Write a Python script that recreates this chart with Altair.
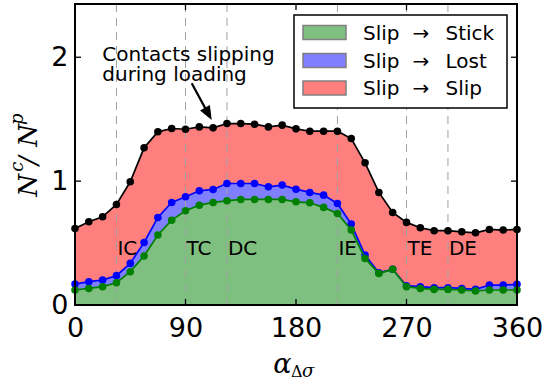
import altair as alt
import pandas as pd

# ---------------- data ----------------
angle = [0, 11.25, 22.5, 33.75, 45, 56.25, 67.5, 78.75, 90, 101.25, 112.5,
         123.75, 135, 146.25, 157.5, 168.75, 180, 191.25, 202.5, 213.75, 225,
         236.25, 247.5, 258.75, 270, 281.25, 292.5, 303.75, 315, 326.25,
         337.5, 348.75, 360]

# cumulative curves (N^c / N^p)
stick = [0.121, 0.134, 0.148, 0.180, 0.269, 0.395, 0.565, 0.685, 0.761, 0.806,
         0.828, 0.841, 0.852, 0.852, 0.852, 0.852, 0.833, 0.825, 0.788, 0.739,
         0.605, 0.376, 0.255, 0.288, 0.148, 0.134, 0.126, 0.126, 0.121, 0.113,
         0.121, 0.121, 0.121]
stick_lost = [0.169, 0.188, 0.202, 0.237, 0.336, 0.505, 0.707, 0.828, 0.874,
              0.922, 0.933, 0.981, 0.981, 0.981, 0.954, 0.968, 0.935, 0.909,
              0.887, 0.820, 0.653, 0.403, 0.261, 0.288, 0.156, 0.148, 0.140,
              0.140, 0.134, 0.126, 0.161, 0.161, 0.167]
total = [0.618, 0.672, 0.712, 0.812, 0.995, 1.269, 1.398, 1.425, 1.419, 1.438,
         1.430, 1.465, 1.465, 1.460, 1.438, 1.452, 1.422, 1.403, 1.403, 1.403,
         1.344, 1.148, 0.909, 0.747, 0.667, 0.624, 0.600, 0.600, 0.591, 0.583,
         0.610, 0.605, 0.610]

phase_x = [33.75, 90, 123.75, 213.75, 270, 303.75]
phase_labels = ["IC", "TC", "DC", "IE", "TE", "DE"]
phase_label_y = 0.40

x_ticks = [0, 90, 180, 270, 360]
y_ticks = [0, 1, 2]
y_max = 2.43

legend_from = ["Slip", "Slip", "Slip"]
legend_to = ["Stick", "Lost", "Slip"]
fill_colors = ["#7fbf7f", "#7f7fff", "#ff7f7f"]
line_colors = ["#008000", "#0000ff", "#000000"]

annot_lines = ["Contacts slipping", "during loading"]
annot_x = 22.2
annot_y = [1.970, 1.806]
arrow_start = (95.05, 1.790)
arrow_head = (108.6, 1.543)
arrow_angle = 151.4

# ---------------- layout ----------------
W, H = 442, 301
PAD = {"left": 75, "top": 4, "right": 29, "bottom": 82}
FONT = "DejaVu Sans"
MATH = "DejaVu Serif"

df = pd.DataFrame({"a": angle, "stick": stick, "sl": stick_lost,
                   "tot": total, "zero": [0.0] * len(angle)})
one = pd.DataFrame({"k": [0]})

xs = alt.Scale(domain=[0, 360], nice=False, zero=False)
ys = alt.Scale(domain=[0, y_max], nice=False, zero=False)

x_axis = alt.Axis(values=x_ticks, title=None, domain=False, ticks=False,
                  grid=False, labelFontSize=27, labelFont=FONT,
                  labelColor="black", labelPadding=10, labelFlush=False,
                  labelOverlap=False, labelBound=False)
y_axis = alt.Axis(values=y_ticks, title=None, domain=False, ticks=False,
                  grid=False, labelFontSize=27, labelFont=FONT,
                  labelColor="black", labelPadding=7, labelFlush=False,
                  labelOverlap=False, labelBound=False, format="d")

def X(f):
    return alt.X(f, scale=xs, axis=x_axis)

def Y(f):
    return alt.Y(f, scale=ys, axis=y_axis)

base = alt.Chart(df)

area_green = base.mark_area(color=fill_colors[0], opacity=1).encode(
    x=X("a:Q"), y=Y("stick:Q"), y2="zero:Q")
area_blue = base.mark_area(color=fill_colors[1], opacity=1).encode(
    x=X("a:Q"), y=Y("sl:Q"), y2="stick:Q")
area_red = base.mark_area(color=fill_colors[2], opacity=1).encode(
    x=X("a:Q"), y=Y("tot:Q"), y2="sl:Q")

ph = pd.DataFrame({"x": phase_x, "lab": phase_labels,
                   "ly": [phase_label_y] * len(phase_x)})
vrules = alt.Chart(ph).mark_rule(color="#a0a0a0", strokeDash=[8, 6],
                                 strokeWidth=1).encode(x=X("x:Q"))
vtext = alt.Chart(ph).mark_text(align="left", baseline="alphabetic",
                                fontSize=20, font=FONT, color="black",
                                dx=1).encode(
    x=X("x:Q"), y=Y("ly:Q"), text="lab:N")

def curve(field, color):
    ln = base.mark_line(color=color, strokeWidth=1.7).encode(
        x=X("a:Q"), y=Y(field + ":Q"))
    pt = base.mark_circle(color=color, size=57, opacity=1).encode(
        x=X("a:Q"), y=Y(field + ":Q"))
    return ln + pt

lines = curve("tot", line_colors[2]) + curve("sl", line_colors[1]) + curve("stick", line_colors[0])

# inward ticks
xt = pd.DataFrame({"t": x_ticks})
yt = pd.DataFrame({"t": y_ticks})
ticks = (
    alt.Chart(xt).mark_rule(color="black", strokeWidth=1.3).encode(
        x=X("t:Q"), y=alt.value(H), y2=alt.value(H - 6))
    + alt.Chart(xt).mark_rule(color="black", strokeWidth=1.3).encode(
        x=X("t:Q"), y=alt.value(0), y2=alt.value(6))
    + alt.Chart(yt).mark_rule(color="black", strokeWidth=1.3).encode(
        y=Y("t:Q"), x=alt.value(0), x2=alt.value(6))
    + alt.Chart(yt).mark_rule(color="black", strokeWidth=1.3).encode(
        y=Y("t:Q"), x=alt.value(W), x2=alt.value(W - 6))
)

# frame
frame = alt.Chart(one).mark_rect(fill=None, stroke="black", strokeWidth=2).encode(
    x=alt.value(0), x2=alt.value(W), y=alt.value(0), y2=alt.value(H))

# annotation
an = pd.DataFrame({"x": [annot_x] * 2, "y": annot_y, "t": annot_lines})
annot_text = alt.Chart(an).mark_text(align="left", baseline="alphabetic",
                                     fontSize=20, font=FONT, color="black").encode(
    x=X("x:Q"), y=Y("y:Q"), text="t:N")
ar = pd.DataFrame({"x": [arrow_start[0]], "y": [arrow_start[1]],
                   "x2": [arrow_head[0]], "y2": [arrow_head[1]]})
arrow_line = alt.Chart(ar).mark_rule(color="black", strokeWidth=2.2).encode(
    x=X("x:Q"), y=Y("y:Q"), x2="x2:Q", y2="y2:Q")
arrow_tip = alt.Chart(ar).mark_point(shape="M0,-1L-0.8,1L0.8,1Z", filled=True,
                                     color="black", opacity=1, size=196,
                                     angle=arrow_angle).encode(
    x=X("x2:Q"), y=Y("y2:Q"))

# legend (manual, upper right)
def txt(text, x, y, size=20, font=FONT):
    return alt.Chart(one).mark_text(align="left", baseline="alphabetic",
                                    fontSize=size, font=font, color="black",
                                    text=text).encode(x=alt.value(x), y=alt.value(y))

leg_layers = [alt.Chart(one).mark_rect(fill="white", stroke="black",
                                       strokeWidth=1.5).encode(
    x=alt.value(219), x2=alt.value(432), y=alt.value(11), y2=alt.value(104))]
row_y = [28.5, 56.5, 84.0]
for a, b, col, ry in zip(legend_from, legend_to, fill_colors, row_y):
    leg_layers.append(alt.Chart(one).mark_rect(fill=col, stroke="#808080",
                                               strokeWidth=1.5).encode(
        x=alt.value(228), x2=alt.value(271), y=alt.value(ry - 7), y2=alt.value(ry + 7)))
    leg_layers.append(txt(a, 288, ry + 7.3))
    leg_layers.append(txt("\u2192", 337.5, ry + 7.3))
    leg_layers.append(txt(b, 370.5, ry + 7.3))
legend = alt.layer(*leg_layers)

# axis titles as math-like text
def tx(text, x, y, size, italic=True, ang=0):
    kw = dict(align="left", baseline="alphabetic", fontSize=size, font=MATH,
              color="black", text=text, fontStyle="italic" if italic else "normal")
    if ang:
        kw["angle"] = ang
    return alt.Chart(one).mark_text(**kw).encode(x=alt.value(x), y=alt.value(y))

x_title = (tx("\u03b1", 198.3, 368.7, 27)
           + tx("\u0394", 216.0, 372.7, 16, italic=False)
           + tx("\u03c3", 227.0, 372.7, 18))
y_title = (tx("N", -38.3, 192.7, 26, ang=270)
           + tx("c", -51.7, 167.7, 18, ang=270)
           + tx("/", -38.3, 161.0, 26, ang=270)
           + tx("N", -38.3, 142.7, 26, ang=270)
           + tx("p", -51.7, 121.0, 18, ang=270))

chart = alt.layer(
    area_green, area_blue, area_red, vrules, lines, vtext, ticks, frame,
    annot_text, arrow_line, arrow_tip, legend, x_title, y_title
).properties(
    width=W, height=H, autosize=alt.AutoSizeParams(type="none"), padding=PAD,
    background="white"
).configure_view(stroke=None)

chart.save("out.html", embed_options={"renderer": "svg", "actions": False})
